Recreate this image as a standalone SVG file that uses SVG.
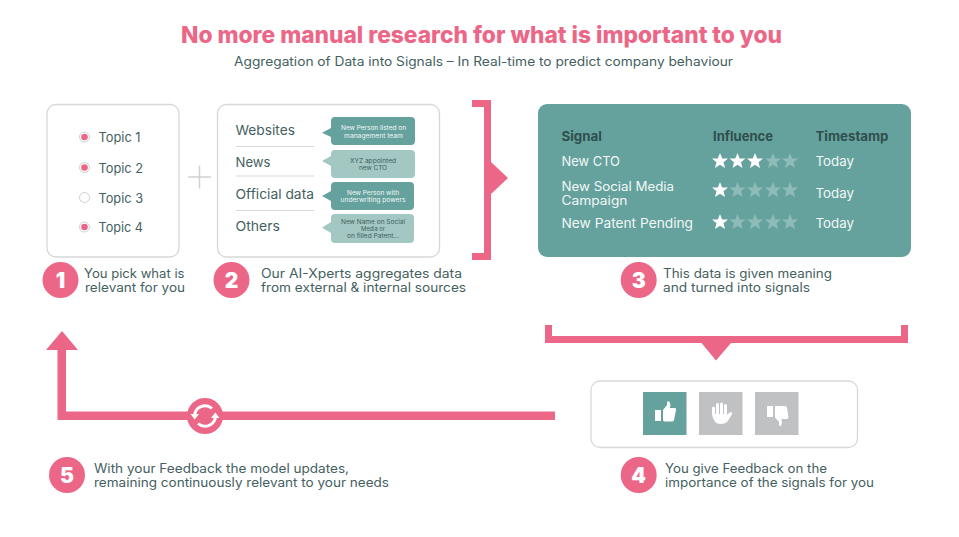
<svg xmlns="http://www.w3.org/2000/svg" xmlns:xlink="http://www.w3.org/1999/xlink" width="959" height="537" viewBox="0 0 959 537">
<style>
text{font-family:"Inter","Liberation Sans",sans-serif;fill:#44615f}
.card{fill:#fff;stroke:#d6d8d8;stroke-width:1.3}
.pink{fill:#ec6787}
.t13{font-size:12.8px}
.t14{font-size:13.2px}
.wt{fill:#f2f7f6;font-size:13.2px}
.ws{fill:#f2f7f6;font-size:12.8px}
.hd{font-size:13px;font-weight:700;fill:#2f4f4d}
.num{font-size:21px;font-weight:900;fill:#fff;text-anchor:middle}
.dark{fill:#65a29e}.light{fill:#a3c7c3}
.bt{font-size:5.8px;text-anchor:middle;fill:#f0f6f5}
.bd{font-size:5.8px;text-anchor:middle;fill:#3f5f5d}
.sep{stroke:#d6d8d8;stroke-width:1.2}
.off{fill:#fff;stroke:#cfd1d1;stroke-width:1}
.ring{fill:#fff;stroke:#d0d2d2;stroke-width:1}
.grey{fill:#c0c1c2}
</style>
<defs>
<polygon id="star" points="0,-8 2.2,-2.6 8,-2.4 3.5,1.2 5,7 0,3.8 -5,7 -3.5,1.2 -8,-2.4 -2.2,-2.6"/>
<g id="on"><circle r="5" class="ring"/><circle r="3.3" class="pink"/></g>
</defs>

<g id="title">
<text x="181" y="43" textLength="601" lengthAdjust="spacingAndGlyphs" style="font-size:23px;font-weight:800;fill:#ec6787">No more manual research for what is important to you</text>
<text x="234" y="66" textLength="499" lengthAdjust="spacingAndGlyphs" style="font-size:12.8px">Aggregation of Data into Signals – In Real-time to predict company behaviour</text>
</g>

<g id="connectors">
<path class="pink" d="M472 100H491V162L508 178L491 194V260H472V253H484V107H472Z"/>
<path class="pink" d="M545 325H552V336H901V325H908V343H731L716 360.500L701.500 343H545Z"/>
<path class="pink" d="M555 411.500V420H57.500V350H46L62 331L78 350H66V411.500Z"/>
<path id="plus" d="M199.500 165.500V188.500M188 177H211" stroke="#d0d2d2" stroke-width="1.500" fill="none"/>
</g>

<g id="node-1">
<rect class="card" x="47" y="104.500" width="132" height="152.500" rx="9"/>
<use xlink:href="#on" href="#on" x="84.500" y="137"/>
<use xlink:href="#on" href="#on" x="84.500" y="167.500"/>
<circle class="off" cx="84.500" cy="197.500" r="5"/>
<use xlink:href="#on" href="#on" x="84.500" y="227"/>
<text class="t14" x="98.500" y="142" textLength="42" lengthAdjust="spacingAndGlyphs">Topic 1</text>
<text class="t14" x="98.500" y="173" textLength="44.500" lengthAdjust="spacingAndGlyphs">Topic 2</text>
<text class="t14" x="98.500" y="203" textLength="44.500" lengthAdjust="spacingAndGlyphs">Topic 3</text>
<text class="t14" x="98.500" y="232" textLength="44.500" lengthAdjust="spacingAndGlyphs">Topic 4</text>
<circle class="pink" cx="60.500" cy="280" r="18"/>
<text class="num" x="60.500" y="288">1</text>
<text class="t13" x="84" y="278" textLength="100.500" lengthAdjust="spacingAndGlyphs">You pick what is</text>
<text class="t13" x="85" y="292" textLength="100" lengthAdjust="spacingAndGlyphs">relevant for you</text>
</g>

<g id="node-2">
<rect class="card" x="217.500" y="104.500" width="222" height="152.500" rx="9"/>
<text class="t14" x="235.500" y="135" textLength="59.500" lengthAdjust="spacingAndGlyphs">Websites</text>
<text class="t14" x="235.500" y="167" textLength="35" lengthAdjust="spacingAndGlyphs">News</text>
<text class="t14" x="235.500" y="199" textLength="78.500" lengthAdjust="spacingAndGlyphs">Official data</text>
<text class="t14" x="235.500" y="230.500" textLength="44.500" lengthAdjust="spacingAndGlyphs">Others</text>
<path class="sep" d="M236 146.500H314M236 176H314M236 210.500H314"/>
<path class="dark" d="M335 117H411a4 4 0 0 1 4 4V141a4 4 0 0 1-4 4H335a4 4 0 0 1-4-4V137L322 132.800L331 128V121a4 4 0 0 1 4-4Z"/>
<path class="light" d="M335 150H411a4 4 0 0 1 4 4V174a4 4 0 0 1-4 4H335a4 4 0 0 1-4-4V166L322 161L331 156V154a4 4 0 0 1 4-4Z"/>
<path class="dark" d="M335 182H410a4 4 0 0 1 4 4V206a4 4 0 0 1-4 4H335a4 4 0 0 1-4-4V201L322 196L331 191V186a4 4 0 0 1 4-4Z"/>
<path class="light" d="M335 214H410a4 4 0 0 1 4 4V239a4 4 0 0 1-4 4H335a4 4 0 0 1-4-4V233L322 227.700L331 222V218a4 4 0 0 1 4-4Z"/>
<text class="bt" x="373.500" y="130" textLength="65" lengthAdjust="spacingAndGlyphs">New Person listed on</text>
<text class="bt" x="373.500" y="137.500" textLength="59" lengthAdjust="spacingAndGlyphs">management team</text>
<text class="bd" x="373" y="162.500" textLength="46" lengthAdjust="spacingAndGlyphs">XYZ appointed</text>
<text class="bd" x="373" y="170" textLength="28" lengthAdjust="spacingAndGlyphs">new CTO</text>
<text class="bt" x="373" y="194.500" textLength="52" lengthAdjust="spacingAndGlyphs">New Person with</text>
<text class="bt" x="373" y="201.500" textLength="65" lengthAdjust="spacingAndGlyphs">underwriting powers</text>
<text class="bd" x="373" y="223.500" textLength="64" lengthAdjust="spacingAndGlyphs">New Name on Social</text>
<text class="bd" x="373" y="230.500" textLength="24" lengthAdjust="spacingAndGlyphs">Media or</text>
<text class="bd" x="373" y="237.500" textLength="52" lengthAdjust="spacingAndGlyphs">on filled Patent…</text>
<circle class="pink" cx="231.500" cy="280" r="18"/>
<text class="num" x="231.500" y="288">2</text>
<text class="t13" x="261" y="278" textLength="201" lengthAdjust="spacingAndGlyphs">Our AI-Xperts aggregates data</text>
<text class="t13" x="261" y="292" textLength="205" lengthAdjust="spacingAndGlyphs">from external &amp; internal sources</text>
</g>

<g id="node-3">
<rect x="538" y="104" width="373" height="153" rx="9" fill="#65a29e"/>
<text class="hd" x="561.500" y="140.500" textLength="40.500" lengthAdjust="spacingAndGlyphs">Signal</text>
<text class="hd" x="713" y="140.500" textLength="60" lengthAdjust="spacingAndGlyphs">Influence</text>
<text class="hd" x="815.500" y="140.500" textLength="73" lengthAdjust="spacingAndGlyphs">Timestamp</text>
<text class="wt" x="561.500" y="165.500" textLength="58.500" lengthAdjust="spacingAndGlyphs">New CTO</text>
<text class="ws" x="561.500" y="190.500" textLength="112.500" lengthAdjust="spacingAndGlyphs">New Social Media</text>
<text class="ws" x="561.500" y="204.500" textLength="66" lengthAdjust="spacingAndGlyphs">Campaign</text>
<text class="wt" x="561.500" y="228" textLength="131.500" lengthAdjust="spacingAndGlyphs">New Patent Pending</text>
<text class="wt" x="815.500" y="165.500" textLength="38.500" lengthAdjust="spacingAndGlyphs">Today</text>
<text class="wt" x="815.500" y="197.500" textLength="38.500" lengthAdjust="spacingAndGlyphs">Today</text>
<text class="wt" x="815.500" y="228" textLength="38.500" lengthAdjust="spacingAndGlyphs">Today</text>
<g fill="#fff">
<use xlink:href="#star" href="#star" x="720" y="161"/><use xlink:href="#star" href="#star" x="737.500" y="161"/><use xlink:href="#star" href="#star" x="755" y="161"/>
<use xlink:href="#star" href="#star" x="720" y="190"/>
<use xlink:href="#star" href="#star" x="720" y="222"/>
</g>
<g fill="#8fbcb8">
<use xlink:href="#star" href="#star" x="773" y="161"/><use xlink:href="#star" href="#star" x="790" y="161"/>
<use xlink:href="#star" href="#star" x="737.500" y="190"/><use xlink:href="#star" href="#star" x="755" y="190"/><use xlink:href="#star" href="#star" x="773" y="190"/><use xlink:href="#star" href="#star" x="790" y="190"/>
<use xlink:href="#star" href="#star" x="737.500" y="222"/><use xlink:href="#star" href="#star" x="755" y="222"/><use xlink:href="#star" href="#star" x="773" y="222"/><use xlink:href="#star" href="#star" x="790" y="222"/>
</g>
<circle class="pink" cx="638.700" cy="280" r="18"/>
<text class="num" x="638.700" y="288">3</text>
<text class="t13" x="663" y="278" textLength="169" lengthAdjust="spacingAndGlyphs">This data is given meaning</text>
<text class="t13" x="663" y="292" textLength="147" lengthAdjust="spacingAndGlyphs">and turned into signals</text>
</g>

<g id="node-4">
<rect class="card" x="591" y="381" width="266.500" height="66.500" rx="9"/>
<rect x="643" y="392" width="43.500" height="43" fill="#65a29e"/>
<rect class="grey" x="699" y="392" width="43.500" height="43"/>
<rect class="grey" x="755" y="392" width="43.500" height="43"/>
<path fill="#fff" d="M655 410H661V421H655ZM663 410L667 405L667 402Q668 401 669 401.500Q671 403 670 408H675Q676.500 408.500 676 410L674 420Q673.500 421.500 672 421.500H665Q663 421.500 663 420Z"/>
<path fill="#fff" d="M712 414V408Q712 406.500 713.500 406.500T715 408V414H716V404.500Q716 403 717.500 403T719 404.500V414H720V404Q720 402.500 721.500 402.500T723 404V414H724V405.500Q724 404 725.500 404T727 405.500V415L728 414Q731 411 732 412.500Q732.500 413.500 731 416L727 422Q725 424 721 424Q716 424 714.500 421Q712 417 712 414Z"/>
<path fill="#fff" d="M767 406H773V417H767ZM775 406H785Q786.500 406 787 407.500L788.500 417Q788.500 419 787 419H781.500Q782.500 423 781 425.500Q780 426.500 779 425.500L779 422L775 417.500Z"/>
<circle class="pink" cx="638.700" cy="475" r="18"/>
<text class="num" x="638.700" y="483">4</text>
<text class="t13" x="665" y="473" textLength="162" lengthAdjust="spacingAndGlyphs">You give Feedback on the</text>
<text class="t13" x="665" y="487" textLength="209" lengthAdjust="spacingAndGlyphs">importance of the signals for you</text>
</g>

<g id="node-5">
<circle class="pink" cx="205" cy="416" r="18"/>
<g fill="none" stroke="#fff" stroke-width="3">
<path d="M194.500 416A10.500 10.500 0 0 1 212 408.500"/>
<path d="M215.500 416A10.500 10.500 0 0 1 198 423.500"/>
</g>
<path fill="#fff" d="M190.500 414H199L194.700 419.500ZM211 418H219.500L215.300 412.500Z"/>
<circle class="pink" cx="67" cy="475" r="18"/>
<text class="num" x="67" y="483">5</text>
<text class="t13" x="94" y="473" textLength="255" lengthAdjust="spacingAndGlyphs">With your Feedback the model updates,</text>
<text class="t13" x="94" y="487" textLength="295" lengthAdjust="spacingAndGlyphs">remaining continuously relevant to your needs</text>
</g>
</svg>
